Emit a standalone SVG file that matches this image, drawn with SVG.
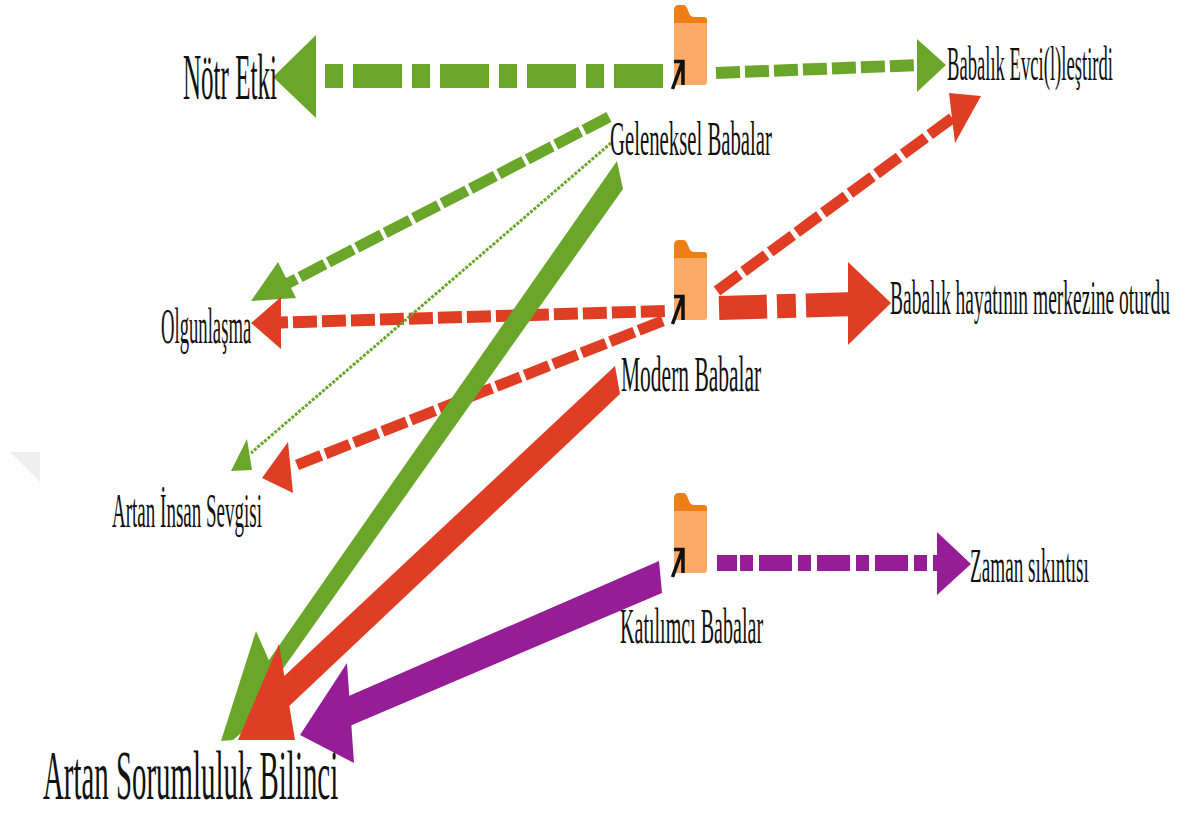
<svg xmlns="http://www.w3.org/2000/svg" width="1181" height="815" viewBox="0 0 1181 815">
<style>
text{font-family:"Liberation Serif","Times New Roman",serif;fill:#111}
.g{stroke:#6aa629;fill:none}.r{stroke:#e03e24;fill:none}.p{stroke:#951e96;fill:none}
.gf{fill:#6aa629}.rf{fill:#e03e24}.pf{fill:#951e96}
.body{fill:#fdaa66}.tab{fill:#ee7f17}
.arr{fill:none;stroke:#111;stroke-width:3.500}
</style>
<defs>
<g id="folder">
<path d="M0 18V5Q0 0 5 0H9Q12 0 13 3L15.500 9Q17 12 20 12H30Q33 12 33 15V18Z" class="tab"/>
<path d="M0 18H33V77Q33 80 30 80H0Z" class="body"/>
<path d="M0 56.500H9V80M8 58L-1.500 84" class="arr"/>
</g>
</defs>
<rect width="1181" height="815" fill="#fff"/>
<polygon points="10,452 40,452 40,482" fill="#eeeeee"/>
<g id="connectors">
<line class="g" x1="325" y1="76" x2="663" y2="76" stroke-width="24" stroke-dasharray="18 10 49 10"/>
<polygon class="gf" points="273,77 316,35 316,118"/>
<line class="g" x1="716" y1="73" x2="920" y2="65" stroke-width="12" stroke-dasharray="24 5"/>
<polygon class="gf" points="946,65 917,39 917,92"/>
<line class="g" x1="609" y1="117" x2="275" y2="290" stroke-width="11" stroke-dasharray="28 4"/>
<polygon class="gf" points="251,301 278,262 296,298"/>
<line class="r" x1="264" y1="323" x2="665" y2="311" stroke-width="12" stroke-dasharray="24 5"/>
<polygon class="rf" points="251,323 281,297 281,349"/>
<line class="r" x1="297" y1="465" x2="665" y2="320" stroke-width="11" stroke-dasharray="26 4.600"/>
<polygon class="rf" points="262,478 288,442 293,493"/>
<line class="g" x1="611" y1="143" x2="251" y2="453" stroke-width="3" stroke-dasharray="3 1.500"/>
<polygon class="gf" points="247,439 231,471 252,470"/>
<polygon class="gf" points="617,161 623,189 275,680 255,680"/>
<polygon class="gf" points="256,631 221,741 233,740 285,697"/>
<polygon class="rf" points="615,366 620,394 285,710 280,680"/>
<polygon class="rf" points="279,644 238,740 295,740"/>
<line class="r" x1="717" y1="291" x2="955" y2="116" stroke-width="11" stroke-dasharray="28 5"/>
<polygon class="rf" points="981,96 949,93 955,143"/>
<line class="r" x1="719" y1="308" x2="855" y2="304" stroke-width="24" stroke-dasharray="48 10 19 10 60"/>
<polygon class="rf" points="891,303 848,262 848,345"/>
<line class="p" x1="717" y1="563" x2="940" y2="563" stroke-width="16" stroke-dasharray="20 3 13 6 33 6 13 6 33 6 13 6 33 6 13 6 13"/>
<polygon class="pf" points="971,564 937,532 937,595"/>
<polygon class="pf" points="659,561 662,593 345,728 335,702"/>
<polygon class="pf" points="300,735 347,663 354,763"/>
</g>
<g id="node-traditional"><use href="#folder" x="674" y="5"/><text transform="translate(610 155) scale(.41 1)" font-size="48" textLength="395" lengthAdjust="spacingAndGlyphs">Geleneksel Babalar</text></g>
<g id="node-modern"><use href="#folder" x="674" y="240"/><text transform="translate(621 391) scale(.41 1)" font-size="50" textLength="342" lengthAdjust="spacingAndGlyphs">Modern Babalar</text></g>
<g id="node-participant"><use href="#folder" x="674" y="493"/><text transform="translate(620 643) scale(.41 1)" font-size="50" textLength="349" lengthAdjust="spacingAndGlyphs">Katılımcı Babalar</text></g>
<g id="node-notr"><text transform="translate(183 99) scale(.385 1)" font-size="66" textLength="244" lengthAdjust="spacingAndGlyphs">Nötr Etki</text></g>
<g id="node-evci"><text transform="translate(947 80) scale(.41 1)" font-size="48" textLength="405" lengthAdjust="spacingAndGlyphs">Babalık Evci(l)leştirdi</text></g>
<g id="node-merkez"><text transform="translate(890 314) scale(.41 1)" font-size="48" textLength="683" lengthAdjust="spacingAndGlyphs">Babalık hayatının merkezine oturdu</text></g>
<g id="node-olgun"><text transform="translate(161 343) scale(.41 1)" font-size="50" textLength="220" lengthAdjust="spacingAndGlyphs">Olgunlaşma</text></g>
<g id="node-insan"><text transform="translate(112 527) scale(.4 1)" font-size="48" textLength="375" lengthAdjust="spacingAndGlyphs">Artan İnsan Sevgisi</text></g>
<g id="node-zaman"><text transform="translate(970 582) scale(.41 1)" font-size="48" textLength="290" lengthAdjust="spacingAndGlyphs">Zaman sıkıntısı</text></g>
<g id="node-sorumluluk"><text transform="translate(43 799) scale(.41 1)" font-size="70" textLength="720" lengthAdjust="spacingAndGlyphs">Artan Sorumluluk Bilinci</text></g>
</svg>
